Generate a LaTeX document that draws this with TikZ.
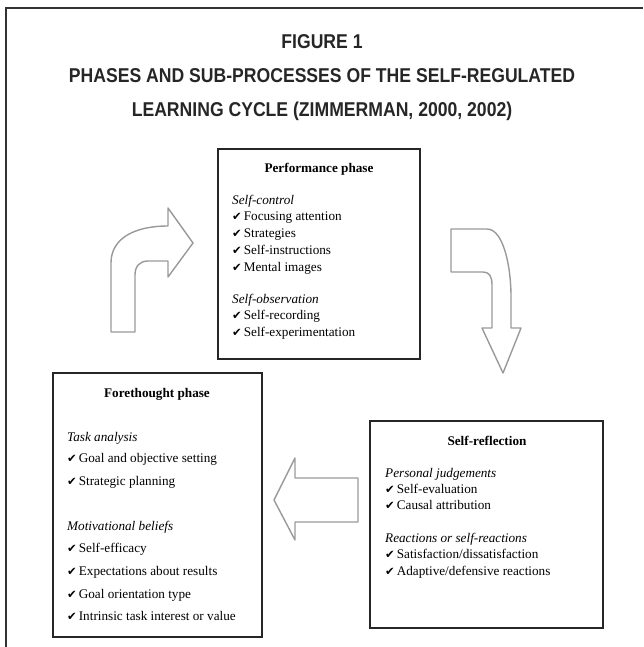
\documentclass[tikz,border=0pt]{standalone}
\usepackage{fontspec}
\setmainfont{Liberation Serif}
\newfontfamily\titlefont{Liberation Sans}
\newfontfamily\dvfont{DejaVu Sans}
\newcommand\ck{{\dvfont\fontsize{11.5}{11.5}\selectfont ✔}\hspace{2pt}}
\newcommand\ttltext[1]{\scalebox{0.88}[1]{#1}}
\tikzset{
  ln/.style={anchor=base west, inner sep=0pt, font=\fontsize{13.2}{15}\selectfont},
  sub/.style={anchor=base west, inner sep=0pt, font=\fontsize{13.2}{15}\selectfont\itshape},
  hd/.style={anchor=base, inner sep=0pt, font=\fontsize{13.2}{15}\selectfont\bfseries},
  box/.style={draw=black!85, line width=1.1pt, inner sep=0pt},
  arr/.style={draw=black!40, line width=1.4pt, line join=round},
  ttl/.style={anchor=base, inner sep=0pt, font=\titlefont\fontsize{20}{22}\selectfont\bfseries, text=black!85},
  frame/.style={draw=black!80, line width=2.5pt},
}
\begin{document}
\begin{tikzpicture}[x=1pt,y=-1pt]
\useasboundingbox (0,0) rectangle (643,647);
% frame
\draw[frame] (6,647) -- (6,8) -- (643,8);
% title
\node[ttl] (t1) at (322,49) {\ttltext{FIGURE 1}};
\node[ttl] (t2) at (322,83) {\ttltext{PHASES AND SUB-PROCESSES OF THE SELF-REGULATED}};
\node[ttl] (t3) at (322,117) {\ttltext{LEARNING CYCLE (ZIMMERMAN, 2000, 2002)}};
% boxes
\node[box, minimum width=202pt, minimum height=210pt] (perf) at (319,254) {};
\node[box, minimum width=209pt, minimum height=264pt] (fore) at (157.5,505) {};
\node[box, minimum width=233pt, minimum height=207pt] (refl) at (486.5,524.5) {};
% performance phase
\node[hd] (ph) at (319,172) {Performance phase};
\node[sub] (p1) at (232,204) {Self-control};
\node[ln] (p2) at (232,220.5) {\ck Focusing attention};
\node[ln] (p3) at (232,237) {\ck Strategies};
\node[ln] (p4) at (232,254) {\ck Self-instructions};
\node[ln] (p5) at (232,271) {\ck Mental images};
\node[sub] (p6) at (232,303) {Self-observation};
\node[ln] (p7) at (232,319.5) {\ck Self-recording};
\node[ln] (p8) at (232,336) {\ck Self-experimentation};
% forethought phase
\node[hd] (fh) at (157,397) {Forethought phase};
\node[sub] (f1) at (67,441) {Task analysis};
\node[ln] (f2) at (67,462) {\ck Goal and objective setting};
\node[ln] (f3) at (67,485) {\ck Strategic planning};
\node[sub] (f4) at (67,530) {Motivational beliefs};
\node[ln] (f5) at (67,552) {\ck Self-efficacy};
\node[ln] (f6) at (67,575) {\ck Expectations about results};
\node[ln] (f7) at (67,598) {\ck Goal orientation type};
\node[ln] (f8) at (67,620) {\ck Intrinsic task interest or value};
% self-reflection
\node[hd] (rh) at (487,445) {Self-reflection};
\node[sub] (r1) at (385,477) {Personal judgements};
\node[ln] (r2) at (385,493) {\ck Self-evaluation};
\node[ln] (r3) at (385,509) {\ck Causal attribution};
\node[sub] (r4) at (385,542) {Reactions or self-reactions};
\node[ln] (r5) at (385,558) {\ck Satisfaction/dissatisfaction};
\node[ln] (r6) at (385,575) {\ck Adaptive/defensive reactions};
% block arrows
\draw[arr] (111,332) -- (111,263) .. controls (111,238) and (135,226) .. (168,226)
  -- (168,208) -- (193,243) -- (168,277) -- (168,261) -- (148,261)
  .. controls (140,261) and (135,266) .. (135,275) -- (135,332) -- cycle;
\draw[arr] (451,229) -- (487,229) .. controls (503,229) and (511,265) .. (511,297)
  -- (511,328) -- (521,328) -- (503,373) -- (482,328) -- (492,328) -- (492,285)
  .. controls (492,276) and (489,272) .. (483,272) -- (451,272) -- cycle;
\draw[arr] (358,478) -- (295,478) -- (295,458) -- (274,500) -- (295,540)
  -- (295,522) -- (358,522) -- cycle;
\end{tikzpicture}
\end{document}
